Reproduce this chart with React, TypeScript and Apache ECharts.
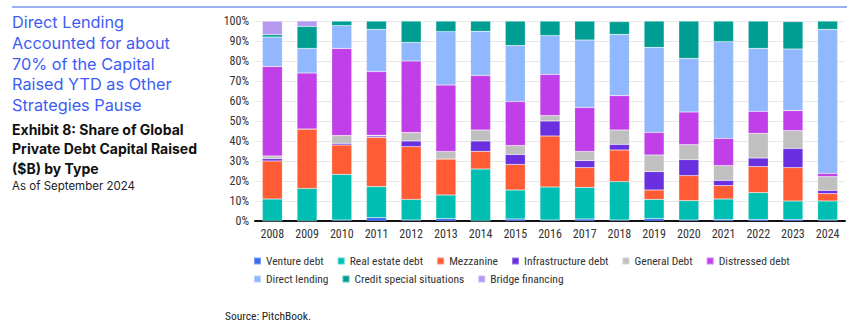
import React, { useEffect, useRef } from "react";
import * as echarts from "echarts";

const years = ["2008","2009","2010","2011","2012","2013","2014","2015","2016","2017","2018","2019","2020","2021","2022","2023","2024"];
const yTicks = [0,10,20,30,40,50,60,70,80,90,100];

const ventureDebt = [0,0,0.5,1.7,0.5,1.2,0,1.0,0.5,1.0,0.5,1.2,0.5,0.8,0.8,0.8,0.5];
const realEstateDebt = [11,16.3,22.8,15.5,10.3,11.8,26,14.5,16.5,15.8,19.2,9.6,9.7,10.2,13.4,9.2,9.5];
const mezzanine = [19,29.7,14.7,24.6,26.4,18,8.8,12.8,25.5,9.9,15.8,4.7,12.5,6.7,13,16.7,3.7];
const infrastructureDebt = [1.2,0,0.8,0.7,2.8,0,5.2,5,7.5,3.5,2.8,9.2,8,2.6,4.3,9.6,1.6];
const generalDebt = [1.3,0,3.9,0.4,4.2,3.8,5.5,4.4,2.7,4.6,7.2,8.3,7.5,7.4,12.3,8.9,6.9];
const distressedDebt = [44.8,28,43.6,31.8,35.8,33.2,27.3,22,20.6,22,17.2,11.3,16.3,13.6,11,10,1.6];
const directLending = [14.7,12.3,11.4,21.1,9.3,26.7,22,28,19.4,33.7,30.6,42.5,26.8,48.4,31.5,30.8,72];
const creditSpecialSituations = [1.2,11,2.3,4.2,10.7,5.3,5.2,12.3,7.3,9.5,6.4,13.2,18.7,10.3,13.7,13.7,4.2];
const bridgeFinancing = [6.7,2.7,0,0,0,0,0,0,0,0,0.3,0,0,0,0,0.3,0];

const seriesNames = ["Venture debt","Real estate debt","Mezzanine","Infrastructure debt","General Debt","Distressed debt","Direct lending","Credit special situations","Bridge financing"];
const seriesData = [ventureDebt, realEstateDebt, mezzanine, infrastructureDebt, generalDebt, distressedDebt, directLending, creditSpecialSituations, bridgeFinancing];
const seriesColors = ["#3a6cf4","#00bfb2","#ff5c35","#6a2fdf","#c0c0c0","#c13fe8","#91b8fe","#009e92","#b59af0"];

const headline = ["Direct Lending","Accounted for about","70% of the Capital","Raised YTD as Other","Strategies Pause"];
const exhibit = ["Exhibit 8: Share of Global","Private Debt Capital Raised","($B) by Type"];
const subtitle = "As of September 2024";
const source = "Source: PitchBook.";

const NARROW = "'Liberation Sans Narrow', 'Roboto Condensed', 'DejaVu Sans Condensed', sans-serif";
const HEAD = "Inter, 'Noto Sans', sans-serif";

export default function App() {
  const ref = useRef<HTMLDivElement>(null);
  useEffect(() => {
    if (!ref.current) return;
    const chart = echarts.init(ref.current, undefined, { renderer: "svg" });
    const graphics: any[] = [
      { type: "line", shape: { x1: 12, y1: 7, x2: 847, y2: 7 }, style: { stroke: "#7b95f0", lineWidth: 1.5 } },
    ];
    headline.forEach((t, i) => {
      graphics.push({ type: "text", left: 12, top: 14 + i * 20.8, style: { text: t, fill: "#3d5cf5", font: `16.3px ${HEAD}` } });
    });
    exhibit.forEach((t, i) => {
      graphics.push({ type: "text", left: 12, top: 122 + i * 19.5, style: { text: t, fill: "#111", font: `bold 14px ${HEAD}` } });
    });
    graphics.push({ type: "text", left: 12, top: 180, style: { text: subtitle, fill: "#222", font: `11.5px ${HEAD}` } });
    graphics.push({ type: "text", left: 225, top: 310, style: { text: source, fill: "#222", font: `11.5px ${NARROW}` } });

    const legendText = { fontFamily: NARROW, fontSize: 11.5, color: "#333" };
    chart.setOption({
      animation: false,
      backgroundColor: "#fff",
      grid: { left: 255, top: 21, width: 590, height: 200, containLabel: false },
      legend: [
        { data: seriesNames.slice(0, 6), left: 253, top: 255, padding: 0, icon: "rect", itemWidth: 7, itemHeight: 7, itemGap: 13, textStyle: legendText },
        { data: seriesNames.slice(6), left: 253, top: 273, padding: 0, icon: "rect", itemWidth: 7, itemHeight: 7, itemGap: 13, textStyle: legendText },
      ],
      xAxis: {
        type: "category", data: years,
        axisLine: { lineStyle: { color: "#111", width: 2 } },
        axisTick: { show: false },
        axisLabel: { fontFamily: NARROW, fontSize: 12, color: "#333", margin: 7 },
      },
      yAxis: {
        type: "value", min: 0, max: 100, interval: 10,
        axisLine: { show: false }, axisTick: { show: false },
        splitLine: { lineStyle: { color: "#e8e8e8", width: 1 } },
        axisLabel: { fontFamily: NARROW, fontSize: 12, color: "#333", margin: 6, formatter: (v: number) => (yTicks.includes(v) ? `${v}%` : "") },
      },
      series: seriesNames.map((name, i) => ({
        name, type: "bar", stack: "total", barWidth: 20,
        data: seriesData[i],
        itemStyle: { color: seriesColors[i], borderColor: "rgba(255,255,255,0.35)", borderWidth: 0.5 },
      })),
      graphic: graphics,
    });
    return () => chart.dispose();
  }, []);
  return <div ref={ref} style={{ position: "absolute", left: 0, top: 0, width: 855, height: 333, background: "#fff" }} />;
}
